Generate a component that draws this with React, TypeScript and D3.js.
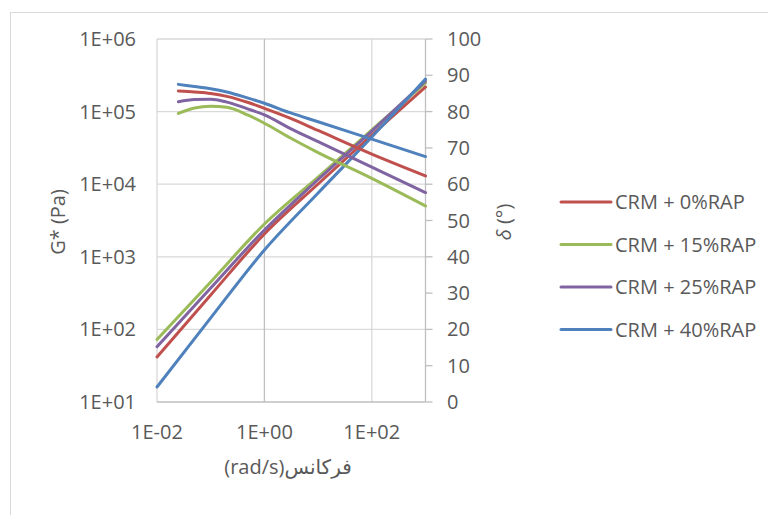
import React from 'react';
import * as d3 from 'd3';

// Series meta
const seriesNames = ['CRM + 0%RAP', 'CRM + 15%RAP', 'CRM + 25%RAP', 'CRM + 40%RAP'];
const seriesColors = ['#C0504D', '#9BBB59', '#8064A2', '#4F81BD'];

// G* (Pa) vs frequency (rad/s)
const gFreq = [0.01, 0.1, 1, 10, 100, 1000];
const gRAP0 = [41.7, 298, 2060, 10070, 47600, 218000];
const gRAP15 = [72.6, 450, 2830, 12560, 55800, 248000];
const gRAP25 = [57.8, 372, 2340, 11600, 54000, 264000];
const gRAP40 = [16.1, 144, 1240, 7570, 44700, 281000];

// Phase angle δ (°) vs frequency (rad/s)
const dFreq = [0.025, 0.05, 0.1, 0.2, 0.5, 1, 3, 10, 100, 1000];
const dRAP0 = [85.7, 85.4, 85.0, 84.2, 82.5, 80.9, 78.2, 74.8, 68.3, 62.3];
const dRAP15 = [79.5, 81.0, 81.5, 81.2, 79.0, 76.8, 72.8, 68.7, 61.6, 54.0];
const dRAP25 = [82.7, 83.3, 83.4, 82.6, 80.7, 79.1, 75.4, 71.7, 64.7, 57.7];
const dRAP40 = [87.5, 86.9, 86.3, 85.4, 83.7, 82.3, 79.7, 77.2, 72.4, 67.6];

const gSeries = [gRAP0, gRAP15, gRAP25, gRAP40];
const dSeries = [dRAP0, dRAP15, dRAP25, dRAP40];

// Axes ticks
const xTicks = [0.01, 1, 100];
const xTickLabels = ['1E-02', '1E+00', '1E+02'];
const leftTicks = [10, 100, 1000, 10000, 100000, 1000000];
const leftTickLabels = ['1E+01', '1E+02', '1E+03', '1E+04', '1E+05', '1E+06'];
const rightTicks = [0, 10, 20, 30, 40, 50, 60, 70, 80, 90, 100];

const FONT = '"Open Sans", "DejaVu Sans", sans-serif';
const TXT = '#595959';

export default function App() {
  const plot = { left: 157, right: 425.5, top: 39, bottom: 402 };
  const x = d3.scaleLog().domain([0.01, 1000]).range([plot.left, plot.right]);
  const yL = d3.scaleLog().domain([10, 1000000]).range([plot.bottom, plot.top]);
  const yR = d3.scaleLinear().domain([0, 100]).range([plot.bottom, plot.top]);

  const gLine = d3
    .line<[number, number]>()
    .x((d) => x(d[0]))
    .y((d) => yL(d[1]))
    .curve(d3.curveMonotoneX);
  const dLine = d3
    .line<[number, number]>()
    .x((d) => x(d[0]))
    .y((d) => yR(d[1]))
    .curve(d3.curveMonotoneX);

  const legendY = [202, 244.5, 287, 329.5];

  return (
    <svg
      width={768}
      height={515}
      style={{ position: 'absolute', left: 0, top: 0, background: '#fff' }}
      fontFamily={FONT}
    >
      <rect x={0} y={0} width={768} height={515} fill="#fff" />
      <rect x={10.5} y={12.5} width={800} height={600} fill="#fff" stroke="#d9d9d9" strokeWidth={1} />

      {/* horizontal gridlines */}
      {leftTicks.slice(1).map((t) => (
        <line key={'hg' + t} x1={plot.left} x2={plot.right} y1={yL(t)} y2={yL(t)} stroke="#d9d9d9" strokeWidth={1.3} />
      ))}
      {/* vertical gridlines */}
      {[0.01, 100].map((t) => (
        <line key={'vg' + t} x1={x(t)} x2={x(t)} y1={plot.top} y2={plot.bottom} stroke="#d9d9d9" strokeWidth={1.3} />
      ))}
      {/* value axis line (crosses at 1) */}
      <line x1={x(1)} x2={x(1)} y1={plot.top} y2={plot.bottom} stroke="#bfbfbf" strokeWidth={1.3} />
      {/* bottom axis */}
      <line x1={plot.left} x2={plot.right} y1={plot.bottom} y2={plot.bottom} stroke="#bfbfbf" strokeWidth={1.3} />
      {/* right axis */}
      <line x1={plot.right} x2={plot.right} y1={plot.top} y2={plot.bottom} stroke="#bfbfbf" strokeWidth={1.3} />
      {rightTicks.map((t) => (
        <line key={'rt' + t} x1={plot.right} x2={plot.right + 7} y1={yR(t)} y2={yR(t)} stroke="#bfbfbf" strokeWidth={1.3} />
      ))}

      {/* tick labels */}
      {leftTicks.map((t, i) => (
        <text key={'lt' + t} x={136} y={yL(t)} dy="0.35em" textAnchor="end" fontSize={20} fill={TXT}>
          {leftTickLabels[i]}
        </text>
      ))}
      {rightTicks.map((t) => (
        <text key={'rl' + t} x={447} y={yR(t)} dy="0.35em" textAnchor="start" fontSize={20} fill={TXT}>
          {t}
        </text>
      ))}
      {xTicks.map((t, i) => (
        <text key={'xt' + t} x={x(t)} y={432} dy="0.35em" textAnchor="middle" fontSize={20} fill={TXT}>
          {xTickLabels[i]}
        </text>
      ))}

      {/* axis titles */}
      <text transform="translate(65,222) rotate(-90)" textAnchor="middle" fontSize={20} fill={TXT}>
        G* (Pa)
      </text>
      <text transform="translate(511,222) rotate(-90)" textAnchor="middle" fontSize={20} fill={TXT}>
        <tspan fontStyle="italic">δ</tspan> (°)
      </text>
      <text x={288} y={474} textAnchor="middle" fontSize={20} fill={TXT} style={{ direction: 'rtl', unicodeBidi: 'embed' }}>
        فرکانس(rad/s)
      </text>

      {/* data lines */}
      {gSeries.map((vals, i) => (
        <path
          key={'g' + i}
          d={gLine(gFreq.map((f, j) => [f, vals[j]] as [number, number])) || ''}
          fill="none"
          stroke={seriesColors[i]}
          strokeWidth={3}
          strokeLinecap="round"
        />
      ))}
      {dSeries.map((vals, i) => (
        <path
          key={'d' + i}
          d={dLine(dFreq.map((f, j) => [f, vals[j]] as [number, number])) || ''}
          fill="none"
          stroke={seriesColors[i]}
          strokeWidth={3}
          strokeLinecap="round"
        />
      ))}

      {/* legend */}
      {seriesNames.map((n, i) => (
        <g key={'lg' + i}>
          <line x1={561} x2={611} y1={legendY[i]} y2={legendY[i]} stroke={seriesColors[i]} strokeWidth={3} strokeLinecap="round" />
          <text x={615} y={legendY[i]} dy="0.35em" fontSize={20} fill={TXT}>
            {n}
          </text>
        </g>
      ))}
    </svg>
  );
}
